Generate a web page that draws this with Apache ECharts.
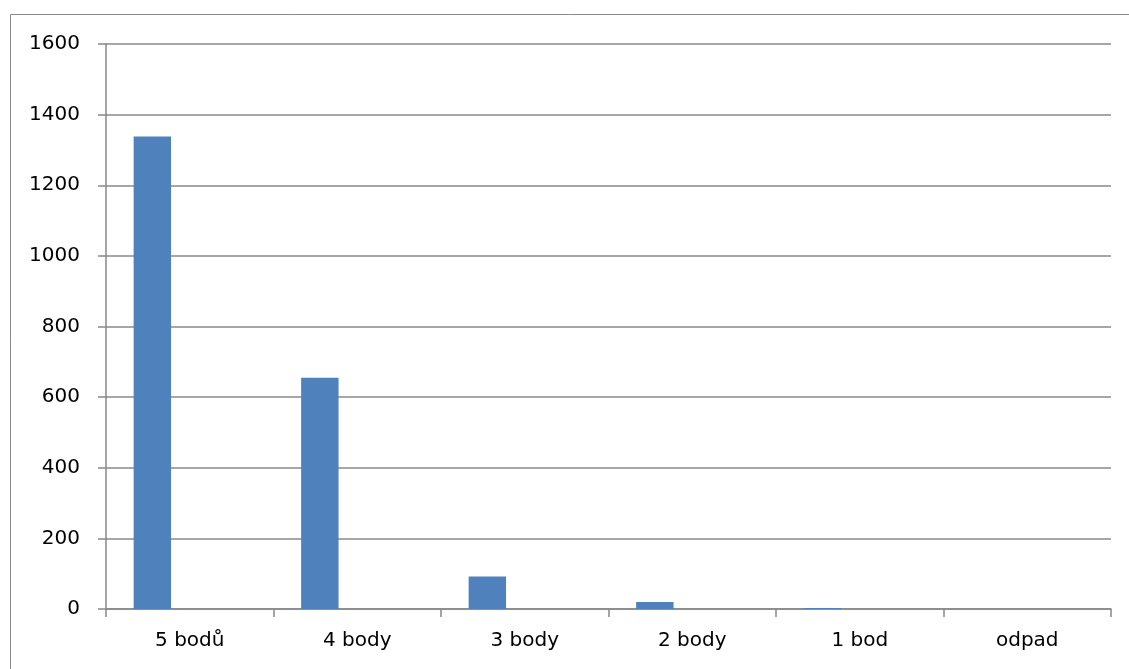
<!DOCTYPE html>
<html>
<head>
<meta charset="utf-8">
<script src="https://cdn.jsdelivr.net/npm/echarts@6/dist/echarts.min.js"></script>
<style>
  html, body { margin: 0; padding: 0; background: #fff; }
  #main { width: 1129px; height: 669px; }
</style>
</head>
<body>
<div id="main"></div>
<script>
  // kategorie a hodnoty
  var categories = ['5 bodů', '4 body', '3 body', '2 body', '1 bod', 'odpad'];
  var counts = [1338, 655, 92, 20, 3, 0];
  // další dvě řady jsou v grafu prázdné (jen posouvají sloupce)
  var series2 = [0, 0, 0, 0, 0, 0];
  var series3 = [0, 0, 0, 0, 0, 0];
  var yTicks = { min: 0, max: 1600, interval: 200 };

  var myChart = echarts.init(document.getElementById('main'));

  var axisGray = '#888888';
  var font = 'DejaVu Sans';

  var option = {
    animation: false,
    backgroundColor: '#fff',
    graphic: [{
      type: 'rect',
      shape: { x: 10.5, y: 14.5, width: 1300, height: 900 },
      style: { fill: 'none', stroke: axisGray, lineWidth: 1 },
      silent: true
    }],
    grid: { left: 106, top: 44, right: 18, bottom: 60 },
    xAxis: {
      type: 'category',
      data: categories,
      axisLine: { lineStyle: { color: axisGray, width: 1.5 } },
      axisTick: { show: true, length: 8, lineStyle: { color: axisGray, width: 1.5 } },
      axisLabel: { color: '#000', fontFamily: font, fontSize: 20, margin: 22 }
    },
    yAxis: {
      type: 'value',
      min: yTicks.min,
      max: yTicks.max,
      interval: yTicks.interval,
      axisLine: { show: true, lineStyle: { color: axisGray, width: 1.5 } },
      axisTick: { show: true, length: 8, lineStyle: { color: axisGray, width: 1.5 } },
      axisLabel: {
        color: '#000', fontFamily: font, fontSize: 20, margin: 26,
        formatter: function (v) { return String(v); }
      },
      splitLine: { lineStyle: { color: axisGray, width: 1.5 } }
    },
    series: [
      { type: 'bar', data: counts, barGap: '0%', barCategoryGap: '33%',
        itemStyle: { color: '#4F81BD' } },
      { type: 'bar', data: series2, barGap: '0%', itemStyle: { color: '#C0504D' } },
      { type: 'bar', data: series3, barGap: '0%', itemStyle: { color: '#9BBB59' } }
    ]
  };

  myChart.setOption(option);
</script>
</body>
</html>
